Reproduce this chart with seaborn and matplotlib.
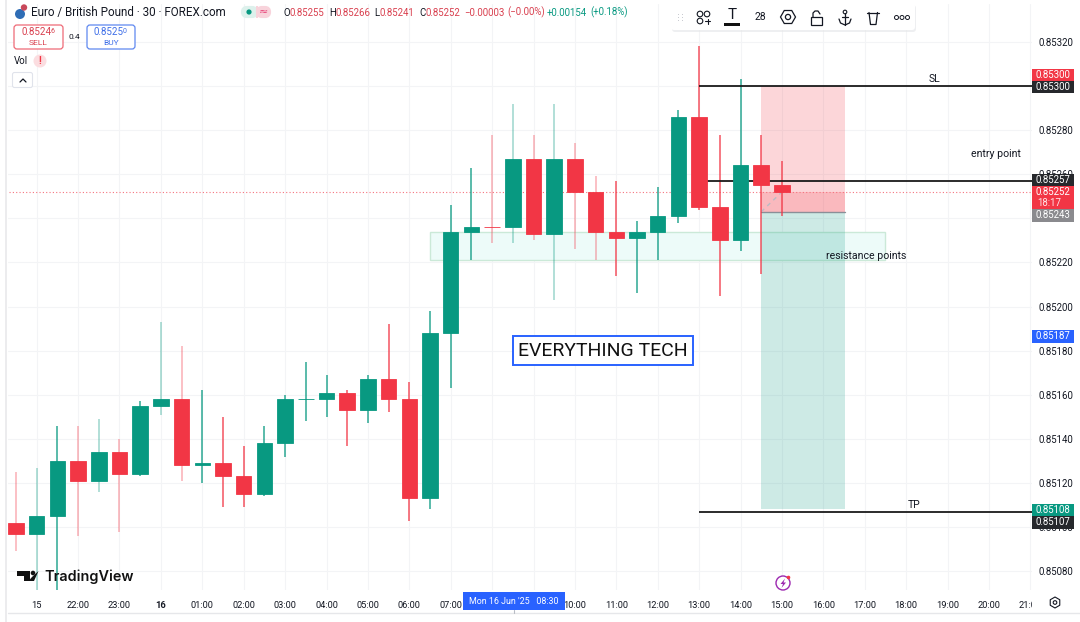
import matplotlib
matplotlib.use("Agg")
import matplotlib.pyplot as plt
from matplotlib.patches import Rectangle, FancyBboxPatch, Circle, RegularPolygon, Polygon
from matplotlib.transforms import Bbox
import pandas as pd
import seaborn as sns

# candles, 30 min EURGBP
opens = [0.85102, 0.85097, 0.85105, 0.85130, 0.85121, 0.85134, 0.85124, 0.85155, 0.85158, 0.85128,
         0.85129, 0.85123, 0.85115, 0.85138, 0.85158, 0.85158, 0.85161, 0.85153, 0.85167, 0.85158,
         0.85113, 0.85188, 0.85234, 0.85236, 0.85236, 0.85267, 0.85233, 0.85267, 0.85252, 0.85234,
         0.85231, 0.85234, 0.85241, 0.85286, 0.85245, 0.85230, 0.85264, 0.85255]
highs = [0.85125, 0.85127, 0.85146, 0.85146, 0.85149, 0.85140, 0.85157, 0.85193, 0.85182, 0.85162,
         0.85150, 0.85137, 0.85146, 0.85160, 0.85175, 0.85169, 0.85162, 0.85169, 0.85192, 0.85166,
         0.85198, 0.85246, 0.85263, 0.85278, 0.85292, 0.85278, 0.85292, 0.85274, 0.85259, 0.85257,
         0.85239, 0.85254, 0.85289, 0.85318, 0.85278, 0.85303, 0.85278, 0.85266]
lows = [0.85089, 0.85070, 0.85070, 0.85096, 0.85116, 0.85098, 0.85123, 0.85151, 0.85121, 0.85120,
        0.85109, 0.85109, 0.85114, 0.85132, 0.85148, 0.85150, 0.85137, 0.85147, 0.85152, 0.85103,
        0.85108, 0.85163, 0.85221, 0.85229, 0.85229, 0.85230, 0.85203, 0.85226, 0.85221, 0.85214,
        0.85206, 0.85221, 0.85238, 0.85244, 0.85205, 0.85225, 0.85215, 0.85241]
closes = [0.85097, 0.85105, 0.85130, 0.85121, 0.85134, 0.85124, 0.85155, 0.85158, 0.85128, 0.85129,
          0.85123, 0.85115, 0.85138, 0.85158, 0.85158, 0.85161, 0.85153, 0.85167, 0.85158, 0.85113,
          0.85188, 0.85234, 0.85236, 0.85236, 0.85267, 0.85233, 0.85267, 0.85252, 0.85234, 0.85231,
          0.85234, 0.85241, 0.85286, 0.85245, 0.85230, 0.85264, 0.85255, 0.85252]
# doji at 23 is a down candle in the source
down_doji = [23]
faded_wicks = [0, 1, 3, 4, 5, 7, 8, 23, 24, 25, 26, 27, 28]

price_ticks = [0.85320, 0.85300, 0.85280, 0.85260, 0.85240, 0.85220, 0.85200,
               0.85180, 0.85160, 0.85140, 0.85120, 0.85100, 0.85080]
# 0.85300 and 0.85240 sit fully behind the price tags in the source
price_labels = ["0.85320", "", "0.85280", "0.85260", "", "0.85220", "0.85200",
                "0.85180", "0.85160", "0.85140", "0.85120", "0.85100", "0.85080"]
time_ticks = list(range(1, 50, 2))
# 08:00 and 09:00 are hidden by the crosshair tag
time_labels = ["15", "22:00", "23:00", "16", "01:00", "02:00", "03:00", "04:00", "05:00", "06:00",
               "07:00", "", "", "10:00", "11:00", "12:00", "13:00", "14:00", "15:00",
               "16:00", "17:00", "18:00", "19:00", "20:00", "21:00"]

# drawings on the chart
sl_price = 0.85300
entry_line_price = 0.85257
tp_price = 0.85107
last_price = 0.85252
position_entry = 0.85243
position_stop = 0.85300
position_target = 0.85108
zone_top = 0.85234
zone_bottom = 0.85221

GREEN = "#089981"
RED = "#F23645"
BLUE = "#2962FF"
INK = "#131722"

sns.set_theme(style="white")
plt.rcParams["font.family"] = ["Roboto", "DejaVu Sans"]

fig = plt.figure(figsize=(10.8, 6.22), dpi=100, facecolor="white")
ax = fig.add_axes([8 / 1080, 1 - 590 / 622, 1024 / 1080, 586 / 622])

df = pd.DataFrame({"idx": range(len(opens)), "open": opens, "high": highs, "low": lows, "close": closes})
df["top"] = df[["open", "close"]].max(axis=1)
df["bottom"] = df[["open", "close"]].min(axis=1)
df["height"] = df["top"] - df["bottom"]
df["up"] = (df["close"] >= df["open"]) & ~df["idx"].isin(down_doji)

# shaded stuff goes under the candles
ax.add_patch(Rectangle((20, zone_bottom), 22, zone_top - zone_bottom,
                       facecolor="#EDFBF9", edgecolor="#CBE9D8", lw=1, zorder=1))
ax.add_patch(Rectangle((36, position_entry), 4.05, position_stop - position_entry, color="#F23645", alpha=0.2, lw=0, zorder=1.5))
ax.add_patch(Rectangle((36, position_entry), 4.05, last_price - position_entry, color="#F23645", alpha=0.18, lw=0, zorder=1.6))
ax.add_patch(Rectangle((36, position_target), 4.05, position_entry - position_target, color="#089981", alpha=0.2, lw=0, zorder=1.5))
ax.plot([36, 40.05], [position_entry, position_entry], color="#8A8F98", lw=1, zorder=1.7)
ax.plot([36, 37], [position_entry, last_price], color="#B8BCC4", lw=1, ls=(0, (3, 3)), zorder=1.7)

ax.hlines(last_price, -1, 50, color="#F5737F", lw=0.8, ls=(0, (1, 2)), zorder=1.8)

for _, row in df.iterrows():
    i = int(row["idx"])
    col = GREEN if row["up"] else RED
    ax.vlines(i, row["low"], row["high"], color=col, lw=1.1,
              alpha=0.4 if i in faded_wicks else 0.85, zorder=2)

for flag, col in [(True, GREEN), (False, RED)]:
    part = df[df["up"] == flag]
    sns.barplot(data=part, x="idx", y="height", bottom=part["bottom"].values, native_scale=True,
                width=0.75, color=col, saturation=1, errorbar=None, ax=ax,
                edgecolor=col, linewidth=0.6, zorder=4)

ax.hlines(entry_line_price, 33, 50, color="#1A1A1A", lw=1.3, zorder=3)
ax.hlines(sl_price, 33, 50, color="#1A1A1A", lw=1.3, zorder=5)
ax.hlines(tp_price, 33, 50, color="#1A1A1A", lw=1.3, zorder=5)

ax.text(44.35, 0.85303, "SL", fontsize=7.5, ha="center", va="center", color=INK, zorder=6)
ax.text(47.35, 0.85269, "entry point", fontsize=7.6, ha="center", va="center", color=INK, zorder=6)
ax.text(41.05, 0.85223, "resistance points", fontsize=7.6, ha="center", va="center", color=INK, zorder=6)
ax.text(43.4, 0.85110, "TP", fontsize=7.5, ha="center", va="center", color=INK, zorder=6)
ax.text(28.35, 0.85180, "EVERYTHING TECH", fontsize=14, ha="center", va="center", color="#111111", zorder=6,
        bbox=dict(boxstyle="square,pad=0.27", fc="white", ec=BLUE, lw=1.4))

ax.set_xlim(-0.386, 49.08)
ax.set_ylim(0.850715, 0.853372)
ax.set_xlabel("")
ax.set_ylabel("")
ax.set_xticks(time_ticks)
ax.set_xticklabels(time_labels)
ax.set_yticks(price_ticks)
ax.set_yticklabels(price_labels)
ax.yaxis.tick_right()
ax.tick_params(axis="y", length=0, pad=4.5, labelsize=6.9, labelcolor=INK)
ax.tick_params(axis="x", length=0, pad=8, labelsize=6.7, labelcolor=INK)
ax.grid(True, color="#F3F4F6", lw=0.8, zorder=0)
ax.set_axisbelow(True)
for s in ax.spines.values():
    s.set_visible(False)
for t in ax.get_xticklabels():
    t.set_clip_box(Bbox.from_extents(0, 0, 1032, 622))
    t.set_clip_on(True)
    if t.get_text() == "16":
        t.set_fontweight("bold")

# everything around the chart is laid out in screen pixels
ui = fig.add_axes([0, 0, 1, 1], facecolor="none", zorder=10)
ui.set_xlim(0, 1080)
ui.set_ylim(622, 0)
ui.axis("off")

ui.add_patch(Rectangle((5, 0), 2, 622, color="#ECECEE", lw=0))
ui.plot([8, 1080], [613, 613], color="#E6E7EA", lw=1)

# price tags
tags = [("0.85300", 68.5, 80.5, RED, "white"), ("0.85300", 80.5, 93, "#26282C", "white"),
        ("0.85257", 173.5, 186, "#26282C", "white"), ("0.85243", 209, 221.5, "#8A8A8E", "white"),
        ("0.85187", 330, 342.5, BLUE, "white"), ("0.85108", 504, 516, GREEN, "white"),
        ("0.85107", 516, 528.5, "#26282C", "white")]
for label, y0, y1, col, txt in tags:
    ui.add_patch(Rectangle((1032, y0), 42, y1 - y0, color=col, lw=0))
    ui.text(1053, (y0 + y1) / 2, label, color=txt, fontsize=6.9, ha="center", va="center")
ui.add_patch(Rectangle((1032, 186), 42, 23, color=RED, lw=0))
ui.text(1053, 192, "0.85252", color="white", fontsize=6.9, ha="center", va="center")
ui.text(1049, 202.5, "18:17", color="#FFE3E6", fontsize=6.9, ha="center", va="center")

# crosshair time tag
ui.add_patch(Rectangle((463, 592), 102, 18, color=BLUE, lw=0))
ui.text(514, 601, "Mon 16 Jun '25   08:30", color="white", fontsize=6.4, ha="center", va="center")
ui.plot([513.5, 513.5], [610, 613], color="#B8BCC4", lw=0.8)

# header line
ui.add_patch(Circle((20, 14), 5, color="#2F6DB5", lw=0))
ui.add_patch(Circle((24, 7.5), 3.2, color="#C8485A", lw=0))
ui.text(31, 12.5, "Euro / British Pound · 30 · FOREX.com", fontsize=8.4, color=INK, ha="left", va="center")
ui.add_patch(FancyBboxPatch((243, 8), 13, 8, boxstyle="round,pad=0,rounding_size=4", fc="#DDF1EC", ec="#DDF1EC", lw=3))
ui.add_patch(FancyBboxPatch((258, 8), 11, 8, boxstyle="round,pad=0,rounding_size=4", fc="#F8D3DB", ec="#F8D3DB", lw=3))
ui.add_patch(Rectangle((256, 6), 2, 12, color="#F8D3DB", lw=0))
ui.add_patch(Circle((249, 12), 2.6, color=GREEN, lw=0))
ui.text(263, 12, "≈", color="#E8457A", fontsize=8, ha="center", va="center", family="DejaVu Sans")

header = [("O", 283, INK), ("0.85255", 290, "#D9404F"), ("H", 329, INK), ("0.85266", 336, "#D9404F"),
          ("L", 374, INK), ("0.85241", 380, "#D9404F"), ("C", 419, INK), ("0.85252", 425, "#D9404F"),
          ("−0.00003", 464, "#D9404F"), ("(−0.00%)", 507, "#D9404F"),
          ("+0.00154", 547, GREEN), ("(+0.18%)", 590, GREEN)]
for s, x, col in header:
    ui.text(x, 12.5, s, color=col, fontsize=6.9, ha="left", va="center")

# buy / sell
ui.add_patch(FancyBboxPatch((14, 25), 49, 24, boxstyle="round,pad=0,rounding_size=3", fc="white", ec="#EF6A77", lw=0.9))
ui.text(21, 32, "0.8524", color="#D9404F", fontsize=7, ha="left", va="center")
ui.text(50.5, 31.5, "6", color="#D9404F", fontsize=5, ha="left", va="center")
ui.text(38, 43, "SELL", color="#D9404F", fontsize=6, ha="center", va="center")
ui.add_patch(FancyBboxPatch((87, 25), 48, 24, boxstyle="round,pad=0,rounding_size=3", fc="white", ec="#5F88F0", lw=0.9))
ui.text(93, 32, "0.8525", color="#3F6FE8", fontsize=7, ha="left", va="center")
ui.text(122.5, 31.5, "0", color="#3F6FE8", fontsize=5, ha="left", va="center")
ui.text(111, 43, "BUY", color="#3F6FE8", fontsize=6, ha="center", va="center")
ui.text(74, 37, "0.4", color=INK, fontsize=6, ha="center", va="center")

ui.text(14, 61, "Vol", color=INK, fontsize=7, ha="left", va="center")
ui.add_patch(Circle((40, 61), 6.5, color="#FBDDE0", lw=0))
ui.text(40, 61, "!", color=RED, fontsize=7, ha="center", va="center", fontweight="bold")
ui.add_patch(FancyBboxPatch((12.5, 72.5), 20, 15, boxstyle="round,pad=0,rounding_size=2", fc="white", ec="#E0E3EB", lw=0.8))
ui.plot([20, 23, 26], [82, 79, 82], color=INK, lw=0.9)

# floating toolbar
ui.add_patch(FancyBboxPatch((672, 5), 244, 27, boxstyle="round,pad=0,rounding_size=3", fc="#E4E5E8", ec="none", alpha=0.6))
ui.add_patch(FancyBboxPatch((671, 3), 244, 27, boxstyle="round,pad=0,rounding_size=3", fc="white", ec="none"))
for px in (678, 682):
    for py in (14, 17, 20):
        ui.add_patch(Rectangle((px, py), 1.4, 1.4, color="#C9CBD1", lw=0))
for cx, cy in [(700, 14), (707, 14), (700, 21)]:
    ui.add_patch(Circle((cx, cy), 2.8, fc="white", ec=INK, lw=0.8))
ui.plot([705, 710], [21, 21], color=INK, lw=0.8)
ui.plot([707.5, 707.5], [18.5, 23.5], color=INK, lw=0.8)
ui.text(732, 15, "T", fontsize=11, color=INK, ha="center", va="center")
ui.add_patch(Rectangle((723.5, 23.3), 16, 2.4, color="#111111", lw=0))
ui.text(760, 17.5, "28", fontsize=7.5, color=INK, ha="center", va="center")
ui.add_patch(RegularPolygon((788, 17), 6, radius=7.5, orientation=0.5236 * 1, fc="white", ec=INK, lw=0.9))
ui.add_patch(Circle((788, 17), 2.6, fc="white", ec=INK, lw=0.9))
ui.add_patch(Rectangle((811, 17), 11, 8, fc="white", ec=INK, lw=0.9))
ui.plot([813, 813, 815, 818, 820], [17, 13, 11, 11, 14], color=INK, lw=0.9)
ui.plot([845, 845], [13, 25], color=INK, lw=0.9)
ui.add_patch(Circle((845, 12), 1.8, fc="white", ec=INK, lw=0.8))
ui.plot([839, 840.5, 845, 849.5, 851], [19, 23, 25, 23, 19], color=INK, lw=0.9)
ui.plot([842, 848], [16.5, 16.5], color=INK, lw=0.9)
ui.plot([867, 879], [12.5, 12.5], color=INK, lw=0.9)
ui.plot([869, 870.5, 876, 877.5], [12.5, 24.5, 24.5, 12.5], color=INK, lw=0.9)
for cx in (896.5, 902, 907.5):
    ui.add_patch(Circle((cx, 17.5), 2, fc="white", ec=INK, lw=0.7))

# logo, bottom left
ui.add_patch(Polygon([(17, 571), (30, 571), (30, 581), (24, 581), (24, 576), (17, 576)], color="#111111", lw=0))
ui.add_patch(Circle((33, 573), 2.3, color="#111111", lw=0))
ui.add_patch(Polygon([(34, 581), (38.5, 571), (32, 577), (28.5, 581)], color="#111111", lw=0))
ui.text(44.5, 576.5, "TradingView", fontsize=10.4, color="#111111", fontweight="semibold", ha="left", va="center", family=["Inter", "DejaVu Sans"])

# lightning mark and settings
ui.add_patch(Circle((783, 583), 7, fc="white", ec="#9C27B0", lw=1))
ui.add_patch(Polygon([(785, 578.5), (780.5, 584), (783, 584), (781.5, 588), (786, 582.5), (783.5, 582.5)], color="#9C27B0", lw=0))
ui.add_patch(Circle((788.5, 577.5), 1.8, color=RED, lw=0))
ui.add_patch(RegularPolygon((1055, 602.5), 6, radius=5.5, fc="white", ec=INK, lw=0.8))
ui.add_patch(Circle((1055, 602.5), 1.8, fc="white", ec=INK, lw=0.8))

fig.savefig("out.png", dpi=100)
